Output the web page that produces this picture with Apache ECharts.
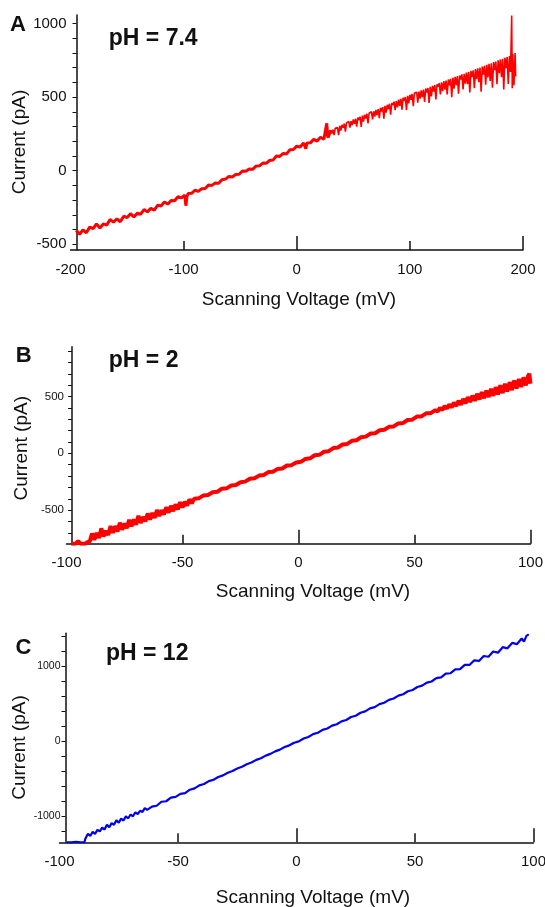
<!DOCTYPE html>
<html>
<head>
<meta charset="utf-8">
<title>I-V curves</title>
<script src="https://cdn.jsdelivr.net/npm/echarts@6/dist/echarts.min.js"></script>
<style>
  html, body { margin: 0; padding: 0; background: #fff; }
  #main { width: 545px; height: 907px; }
</style>
</head>
<body>
<div id="main"></div>
<script>
// panel A, pH 7.4 (mV, pA)
var voltsA = [-195,-192,-189,-186,-183,-180,-177,-174,-171,-168,
  -165,-162,-159,-156,-153,-150,-147,-144,-141,-138,
  -135,-132,-129,-126,-123,-120,-117,-114,-111,-108,
  -105,-102,-99,-98,-97,-96,-93,-90,-87,-84,
  -81,-78,-75,-72,-69,-66,-63,-60,-57,-54,
  -51,-48,-45,-42,-39,-36,-33,-30,-27,-24,
  -21,-18,-15,-12,-9,-6,-3,0,3,6,
  8,9,12,15,18,21,24,26.5,27.5,29,
  30,31,32,33,34,35,36,37,38,39,
  40,41,42,43,44,45,46,47,48,49,
  50,51,52,53,54,55,56,57,58,59,
  60,61,62,63,64,65,66,67,68,69,
  70,71,72,73,74,75,76,77,78,79,
  80,81,82,83,84,85,86,87,88,89,
  90,91,92,93,94,95,96,97,98,99,
  100,101,102,103,104,105,106,107,108,109,
  110,111,112,113,114,115,116,117,118,119,
  120,121,122,123,124,125,126,127,128,129,
  130,131,132,133,134,135,136,137,138,139,
  140,141,142,143,144,145,146,147,148,149,
  150,151,152,153,154,155,156,157,158,159,
  160,161,162,163,164,165,166,167,168,169,
  170,171,172,173,174,175,176,177,178,179,
  180,181,182,183,184,185,186,187,188,189,
  190,190.5,191,192,193,193.5];
var currentA = [-405,-432,-402,-422,-383,-394,-362,-389,-362,-370,
  -332,-350,-327,-347,-309,-319,-292,-314,-289,-296,
  -264,-280,-256,-268,-235,-240,-213,-227,-203,-204,
  -177,-185,-166,-238,-173,-155,-154,-133,-141,-122,
  -121,-98,-100,-83,-85,-61,-57,-39,-43,-26,
  -24,-2,-4,12,9,31,33,52,50,69,
  72,100,97,117,114,142,144,167,161,188,
  150,188,189,213,201,227,214,322,224,250,
  275,252,279,242,289,277,293,242,305,273,
  311,292,320,265,325,319,334,292,337,309,
  348,318,353,299,361,344,366,298,374,334,
  380,355,387,321,392,383,400,348,404,367,
  413,377,418,357,427,403,432,353,441,394,
  448,418,455,380,460,445,469,411,473,431,
  483,441,488,415,496,473,501,412,509,457,
  516,482,521,438,526,513,534,463,538,489,
  546,499,551,468,558,531,562,461,570,504,
  576,537,582,485,587,571,595,518,600,541,
  608,551,613,518,620,580,624,500,632,557,
  638,582,643,523,647,619,655,552,658,592,
  666,588,670,532,678,636,682,561,690,622,
  696,601,700,536,708,652,712,585,720,634,
  726,609,730,564,738,684,742,588,750,662,
  756,635,760,552,768,696,772,589,780,671,
  1055,560,792,580,800,640];

// panel B, pH 2
var voltsB = [-98,-96,-95,-94,-92,-91,
  -90,-89,-88,-87,-86,-85,-84,-83,-82,-81,
  -80,-79,-78,-77,-76,-75,-74,-73,-72,-71,
  -70,-69,-68,-67,-66,-65,-64,-63,-62,-61,
  -60,-59,-58,-57,-56,-55,-54,-53,-52,-51,
  -50,-49,-48,-47,-46,
  -45,-43,-41,-39,-37,-35,-33,-31,-29,-27,
  -25,-23,-21,-19,-17,-15,-13,-11,-9,-7,
  -5,-3,-1,1,3,5,7,9,11,13,
  15,17,19,21,23,25,27,29,31,33,
  35,37,39,41,43,45,47,49,51,53,
  55,57,59,
  60,61,62,63,64,65,66,67,68,69,
  70,71,72,73,74,75,76,77,78,79,
  80,81,82,83,84,85,86,87,88,89,
  90,91,92,93,94,95,96,97,98,99,
  99.5,100];
var currentB = [-795,-795,-772,-795,-795,-782,
  -776,-705,-762,-700,-745,-660,-732,-680,-718,-640,
  -700,-640,-688,-610,-672,-618,-658,-585,-642,-582,
  -628,-550,-612,-560,-598,-530,-583,-525,-568,-498,
  -552,-500,-538,-475,-522,-462,-508,-450,-492,-430,
  -476,-425,-460,-405,-440,
  -400,-396,-370,-366,-342,-338,-311,-308,-283,-279,
  -254,-249,-224,-220,-196,-191,-165,-162,-137,-133,
  -107,-104,-80,-75,-49,-44,-17,-13,14,19,
  46,51,78,83,110,115,142,147,174,177,
  203,207,233,237,263,266,293,296,323,325,
  352,353,380,
  368,400,380,416,393,431,404,446,416,463,
  428,478,440,494,452,508,462,524,474,538,
  485,552,496,568,506,582,518,598,530,612,
  544,626,556,640,570,654,584,668,598,682,
  700,612];

// panel C, pH 12
var voltsC = [-97,-95,-93,-91,-89.5,-89,-88,-87,-86,-85,-84,-83,-82,-81,-80,-79,-78,-77,-76,-75,
  -74,-73,-72,-71,-70,-69,-68,-67,-66,-65,-64,-63,-61,-59,-57,-55,-53,-51,-49,-47,
  -45,-43,-41,-39,-37,-35,-33,-31,-29,-27,-25,-23,-21,-19,-17,-15,-13,-11,-9,-7,
  -5,-3,-1,1,3,5,7,9,11,13,15,17,19,21,23,25,27,29,31,33,
  35,37,39,41,43,45,47,49,51,53,55,57,59,61,63,65,67,69,71,73,
  75,77,79,81,83,85,87,89,91,93,95,96,97,97.5,98];
var currentC = [-1345,-1345,-1338,-1345,-1345,-1290,-1230,-1262,-1205,-1232,-1180,-1200,-1150,-1175,-1110,-1145,-1090,-1112,-1050,-1085,
  -1030,-1055,-1000,-1025,-975,-998,-945,-968,-925,-940,-890,-912,-870,-858,-805,-798,-750,-740,-700,-690,
  -644,-626,-586,-568,-530,-511,-474,-453,-418,-396,-362,-339,-304,-282,-247,-224,-190,-167,-133,-110,
  -76,-53,-19,0,38,58,96,114,153,171,210,228,267,285,324,342,382,400,439,457,
  496,514,553,571,610,628,668,685,725,742,782,798,842,852,902,908,960,962,1020,1018,
  1080,1072,1138,1128,1198,1182,1255,1240,1312,1295,1370,1330,1405,1380,1425];

// ticks and labels
var xLabelsA = [-200, -100, 0, 100, 200];
var xLabelsBC = [-100, -50, 0, 50, 100];
var yLabelsA = [-500, 0, 500, 1000];
var yTicksA = [-500, -400, -300, -200, -100, 0, 100, 200, 300, 400, 500, 600, 700, 800, 900, 1000];
var yLabelsB = [-500, 0, 500];
var yTicksB = [-700, -600, -500, -400, -300, -200, -100, 0, 100, 200, 300, 400, 500, 600, 700, 800, 900];
var yLabelsC = [-1000, 0, 1000];
var yTicksC = [-1200, -1000, -800, -600, -400, -200, 0, 200, 400, 600, 800, 1000, 1200, 1400];

var FONT = '"Liberation Sans", Arial, Helvetica, sans-serif';
var ink = '#111';

function zip(xs, ys) {
  var out = [];
  for (var i = 0; i < xs.length; i++) out.push([xs[i], ys[i]]);
  return out;
}

function plain(v) { return String(v); }

// the A trace is quiet below ~30 mV and a wide noisy band above it
var traceA = zip(voltsA, currentA);
var quietA = traceA.filter(function (p) { return p[0] <= 30; });
var noisyA = traceA.filter(function (p) { return p[0] >= 29; });

function makeX(idx, min, max, step, major, labels) {
  return {
    gridIndex: idx, type: 'value', min: min, max: max, interval: step,
    axisLine: { show: true, onZero: false, lineStyle: { color: ink, width: 1.5 } },
    axisTick: { show: true, inside: true, length: 14, customValues: major, lineStyle: { color: ink, width: 1.5 } },
    minorTick: { show: true, splitNumber: 2, length: 9, lineStyle: { color: ink, width: 1.5 } },
    axisLabel: { customValues: labels, formatter: plain, color: ink, fontFamily: FONT, fontSize: 15, margin: 12 },
    splitLine: { show: false }
  };
}

function makeY(idx, min, max, offset, ticks, labels, size, margin) {
  return {
    gridIndex: idx, type: 'value', min: min, max: max, offset: offset,
    axisLine: { show: true, onZero: false, lineStyle: { color: ink, width: 1.5 } },
    axisTick: { show: true, length: 4, customValues: ticks, lineStyle: { color: ink, width: 1 } },
    axisLabel: { customValues: labels, formatter: plain, color: ink, fontFamily: FONT, fontSize: size, margin: margin },
    splitLine: { show: false }
  };
}

function label(txt, x, y, size, bold, align, rot) {
  return {
    type: 'text', x: x, y: y, rotation: rot || 0,
    style: {
      text: txt, fill: ink, fontFamily: FONT, fontSize: size, fontWeight: bold ? 'bold' : 'normal',
      align: align, textAlign: align, verticalAlign: 'middle', textVerticalAlign: 'middle'
    }
  };
}

var chart = echarts.init(document.getElementById('main'));
var options = {
  animation: false,
  backgroundColor: '#fff',
  grid: [
    { left: 70.5, top: 15, width: 452.5, height: 235, outerBoundsMode: 'none' },
    { left: 66.5, top: 346.7, width: 464, height: 197, outerBoundsMode: 'none' },
    { left: 59.5, top: 633.3, width: 474, height: 209, outerBoundsMode: 'none' }
  ],
  xAxis: [
    makeX(0, -200, 200, 200, [0, 200], xLabelsA),
    makeX(1, -100, 100, 100, [0, 100], xLabelsBC),
    makeX(2, -100, 100, 100, [0, 100], xLabelsBC)
  ],
  yAxis: [
    makeY(0, -539, 1058, -6, yTicksA, yLabelsA, 15, 10),
    makeY(1, -795, 938, -5.5, yTicksB, yLabelsB, 11.5, 8),
    makeY(2, -1345, 1440, -6, yTicksC, yLabelsC, 10.5, 5)
  ],
  series: [
    { type: 'line', xAxisIndex: 0, yAxisIndex: 0, data: quietA, showSymbol: false,
      lineStyle: { color: '#ff0000', width: 3 } },
    { type: 'line', xAxisIndex: 0, yAxisIndex: 0, data: noisyA, showSymbol: false,
      lineStyle: { color: '#ff0000', width: 1.6 } },
    { type: 'line', xAxisIndex: 1, yAxisIndex: 1, data: zip(voltsB, currentB), showSymbol: false,
      lineStyle: { color: '#ff0000', width: 4 } },
    { type: 'line', xAxisIndex: 2, yAxisIndex: 2, data: zip(voltsC, currentC), showSymbol: false,
      lineStyle: { color: '#0000f0', width: 2.2 } }
  ],
  graphic: [
    label('A', 18, 25, 22, true, 'center'),
    label('pH = 7.4', 108.8, 38.3, 23, true, 'left'),
    label('Current (pA)', 20, 142, 19, false, 'center', Math.PI / 2),
    label('Scanning Voltage (mV)', 299, 300, 19, false, 'center'),

    label('B', 23.6, 356, 22, true, 'center'),
    label('pH = 2', 108.8, 360.7, 23, true, 'left'),
    label('Current (pA)', 21.7, 448.3, 19, false, 'center', Math.PI / 2),
    label('Scanning Voltage (mV)', 313, 591.7, 19, false, 'center'),

    label('C', 23.5, 648, 22, true, 'center'),
    label('pH = 12', 106, 653.3, 23, true, 'left'),
    label('Current (pA)', 20, 747.5, 19, false, 'center', Math.PI / 2),
    label('Scanning Voltage (mV)', 313, 897.7, 19, false, 'center')
  ]
};
chart.setOption(options);
</script>
</body>
</html>
